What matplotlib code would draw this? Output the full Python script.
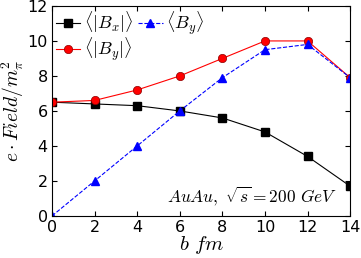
import matplotlib
matplotlib.use('Agg')
import matplotlib.pyplot as plt

plt.rcParams['mathtext.fontset'] = 'cm'
plt.rcParams['xtick.direction'] = 'in'
plt.rcParams['ytick.direction'] = 'in'

# impact parameter b (fm) and field strengths
b = [0, 2, 4, 6, 8, 10, 12, 14]
bx_abs = [6.5, 6.4, 6.3, 6.0, 5.6, 4.8, 3.4, 1.7]
by_abs = [6.5, 6.6, 7.2, 8.0, 9.0, 10.0, 10.0, 7.9]
by_mean = [0.0, 2.0, 4.0, 6.0, 7.9, 9.5, 9.8, 7.9]

fig = plt.figure(figsize=(3.61, 2.58), dpi=100)
ax = fig.add_axes([0.144, 0.163, 0.826, 0.814])

ax.plot(b, bx_abs, 'k-s', lw=0.8, ms=5.5, label=r'$\langle|B_x|\rangle$')
ax.plot(b, by_abs, 'r-o', lw=0.8, ms=6, mec='darkred', mew=0.5, label=r'$\langle|B_y|\rangle$')
ax.plot(b, by_mean, 'b--^', lw=0.8, ms=6, label=r'$\langle B_y\rangle$')

ax.set_xlim(0, 14)
ax.set_ylim(0, 12)
ax.set_xticks(range(0, 15, 2))
ax.set_yticks(range(0, 13, 2))
ax.tick_params(labelsize=11.5, top=True, right=True, pad=3)

ax.set_xlabel(r'$b\ fm$', fontsize=15, labelpad=-1)
ax.set_ylabel(r'$e\cdot Field/m_{\pi}^2$', fontsize=14, labelpad=1)

ax.text(13.4, 0.75, r'$AuAu,\ \sqrt{s}=200\ GeV$', fontsize=12.5, ha='right', va='baseline')

ax.legend(loc='upper left', ncol=2, frameon=False, fontsize=13,
          handlelength=1.35, columnspacing=0.3, handletextpad=0.2,
          borderaxespad=0.1, borderpad=0.1, labelspacing=0.0)

fig.savefig('out.png', dpi=100)
